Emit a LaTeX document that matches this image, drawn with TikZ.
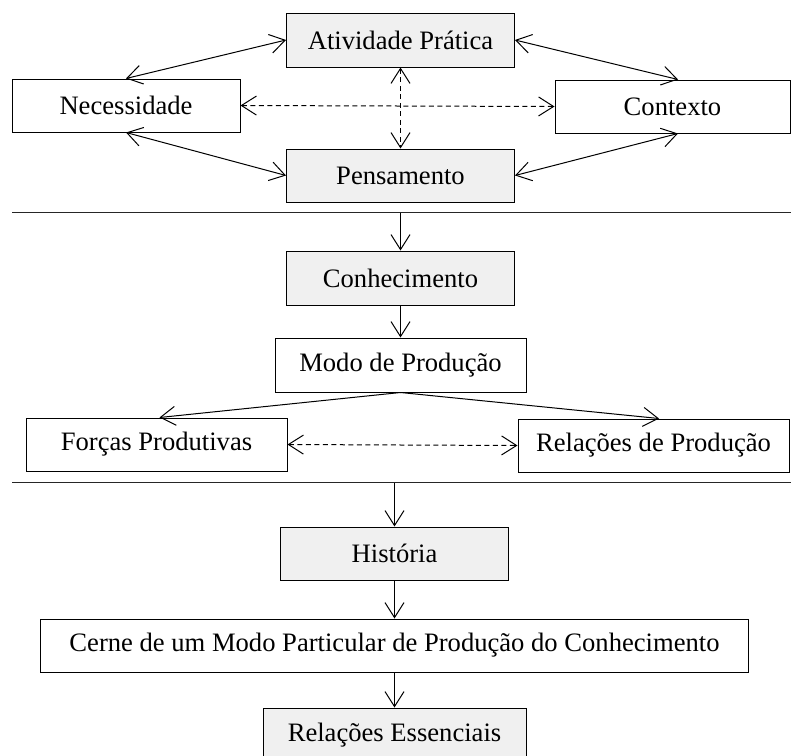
\documentclass[tikz,border=0pt]{standalone}
\usepackage{fontspec}
\setmainfont{Liberation Serif}
\usetikzlibrary{arrows.meta}
\begin{document}
\begin{tikzpicture}[x=1pt,y=-1pt,
  every node/.style={font=\fontsize{26.6}{31}\selectfont},
  box/.style={draw=black,line width=1pt,rectangle,inner sep=0pt,
              minimum height=53pt},
  shaded/.style={box,fill=black!6},
  link/.style={draw=black,line width=1pt},
  barb/.tip={Straight Barb[length=15pt,width=19pt]},
  both/.style={link,barb-barb},
  one/.style={link,-barb},
  dashlink/.style={link,dash pattern=on 5pt off 3.5pt,barb-barb},
  rule/.style={draw=black!85,line width=1pt}]
\useasboundingbox (0,0) rectangle (791,755);
\clip (0,0) rectangle (791,755);

% upper block
\node[shaded,minimum width=228pt,minimum height=54pt] (ativ) at (400.5,40) {Atividade Prática};
\node[box,minimum width=228pt] (nec) at (126,105.5) {Necessidade};
\node[box,minimum width=235pt] (ctx) at (672.5,106.5) {Contexto};
\node[shaded,minimum width=228pt] (pens) at (400.5,175.5) {Pensamento};

\draw[both] (nec.north) -- (ativ.west);
\draw[both] (nec.south) -- (pens.west);
\draw[both] (ativ.east) -- ([xshift=5.5pt]ctx.north);
\draw[both] (pens.east) -- ([xshift=5.5pt]ctx.south);
\draw[dashlink] (nec.east) -- (ctx.west);
\draw[dashlink] (ativ.south) -- (pens.north);

% first divider
\coordinate (r1a) at (12,212.5);
\coordinate (r1b) at (791,212.5);
\coordinate (r1m) at (400.5,212.5);
\draw[rule] (r1a) -- (r1b);

% middle block
\node[shaded,minimum width=228pt,minimum height=54pt] (conh) at (400.5,278) {Conhecimento};
\node[box,minimum width=251pt,minimum height=54pt] (modo) at (400.5,365) {Modo de Produção};
\node[box,minimum width=261pt] (forc) at (156.5,444.5) {Forças Produtivas};
\node[box,minimum width=271pt] (rel) at (653.5,445.5) {Relações de Produção};

\draw[one] (r1m) -- (conh.north);
\draw[one] (conh.south) -- (modo.north);
\draw[one] (modo.south) -- ([xshift=3pt]forc.north);
\draw[one] (modo.south) -- ([xshift=5.5pt]rel.north);
\draw[dashlink] (forc.east) -- (rel.west);

% second divider
\coordinate (r2a) at (12,482.5);
\coordinate (r2b) at (791,482.5);
\coordinate (r2m) at (394.5,482.5);
\draw[rule] (r2a) -- (r2b);

% lower block
\node[shaded,minimum width=228pt] (hist) at (394.5,553.5) {História};
\node[box,minimum width=708pt] (cerne) at (394.5,645.5) {Cerne de um Modo Particular de Produção do Conhecimento};
\node[shaded,minimum width=263pt,minimum height=54pt] (ress) at (394.5,735) {Relações Essenciais};

\draw[one] (r2m) -- (hist.north);
\draw[one] (hist.south) -- (cerne.north);
\draw[one] (cerne.south) -- (ress.north);
\end{tikzpicture}
\end{document}
